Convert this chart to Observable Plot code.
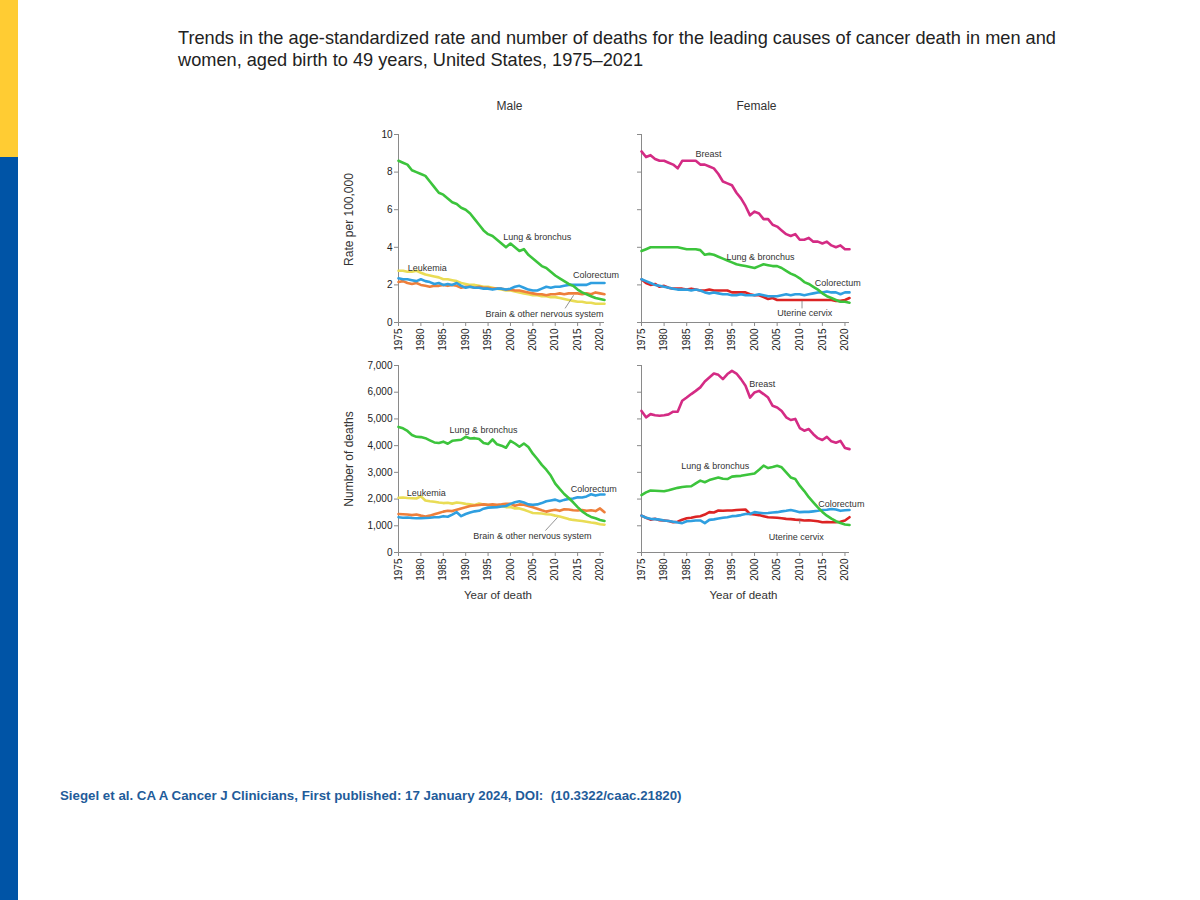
<!DOCTYPE html>
<html>
<head>
<meta charset="utf-8">
<script src="https://cdn.jsdelivr.net/npm/d3@7"></script>
<script src="https://cdn.jsdelivr.net/npm/@observablehq/plot@0.6"></script>
<style>
  html, body { margin: 0; padding: 0; background: #fff; }
  #page { position: relative; width: 1200px; height: 900px; overflow: hidden; font-family: "Liberation Sans", Arial, sans-serif; }
  .bar-y { position: absolute; left: 0; top: 0; width: 18px; height: 157px; background: #ffcc33; }
  .bar-b { position: absolute; left: 0; top: 157px; width: 18px; height: 743px; background: #0054a6; }
  .title { position: absolute; left: 178px; top: 27px; font-size: 18.2px; line-height: 22px; color: #222; width: 960px; white-space: nowrap; }
  .caption { position: absolute; left: 60px; top: 788px; font-size: 13.3px; font-weight: bold; color: #1f5c9a; white-space: nowrap; }
  .panel { position: absolute; }
  .panel svg { overflow: visible; }
</style>
</head>
<body>
<div id="page">
  <div class="bar-y"></div>
  <div class="bar-b"></div>
  <div class="title">Trends in the age-standardized rate and number of deaths for the leading causes of cancer death in men and<br>women, aged birth to 49 years, United States, 1975–2021</div>
  <div id="p1" class="panel"></div>
  <div id="p2" class="panel"></div>
  <div id="p3" class="panel"></div>
  <div id="p4" class="panel"></div>
  <div class="caption">Siegel et al. CA A Cancer J Clinicians, First published: 17 January 2024, DOI:&nbsp; (10.3322/caac.21820)</div>
</div>
<script>
// ---------------- DATA ----------------
const years = d3.range(1975, 2022); // 1975..2021
const xTicks = [1975, 1980, 1985, 1990, 1995, 2000, 2005, 2010, 2015, 2020];
const rateTicks = [0, 2, 4, 6, 8, 10];
const numberTicks = [0, 1000, 2000, 3000, 4000, 5000, 6000, 7000];

const causesMale = ["Leukemia", "Brain & other nervous system", "Colorectum", "Lung & bronchus"];
const causesFemale = ["Uterine cervix", "Colorectum", "Lung & bronchus", "Breast"];
const causeColors = {
  "Lung & bronchus": "#3cc43c",
  "Colorectum": "#2f9fe0",
  "Leukemia": "#e9dc55",
  "Brain & other nervous system": "#ee7f3b",
  "Breast": "#d42b84",
  "Uterine cervix": "#dc2424"
};

// Male, rate per 100,000
const lungMaleRate = [8.6,8.5,8.4,8.1,8.0,7.9,7.8,7.5,7.2,6.9, 6.8,6.6,6.4,6.3,6.1,6.0,5.8,5.5,5.2,4.9, 4.7,4.6,4.4,4.2,4.0,4.2,4.0,3.8,3.9,3.6, 3.4,3.2,3.0,2.9,2.7,2.5,2.35,2.2,2.05,1.95, 1.75,1.6,1.5,1.4,1.3,1.25,1.2];
const leukMaleRate = [2.75,2.75,2.7,2.7,2.75,2.65,2.55,2.5,2.45,2.4, 2.3,2.3,2.25,2.2,2.1,2.05,2.0,2.0,1.95,1.9, 1.9,1.85,1.8,1.75,1.7,1.7,1.65,1.6,1.55,1.5, 1.45,1.45,1.4,1.4,1.35,1.35,1.3,1.25,1.2,1.15, 1.1,1.1,1.05,1.05,1.0,1.0,1.0];
const colMaleRate = [2.35,2.3,2.3,2.25,2.2,2.3,2.2,2.15,2.05,2.1, 2.0,2.05,2.0,2.1,1.95,1.85,1.9,1.85,1.85,1.8, 1.8,1.75,1.8,1.8,1.75,1.8,1.9,1.95,1.85,1.75, 1.7,1.7,1.8,1.9,1.85,1.9,1.9,1.95,2.0,2.0, 2.0,2.0,2.0,2.1,2.1,2.1,2.1];
const brainMaleRate = [2.15,2.2,2.1,2.05,2.1,2.0,1.95,1.9,1.95,1.95, 2.0,1.95,2.0,1.95,1.85,1.9,1.9,1.85,1.9,1.85, 1.85,1.8,1.8,1.8,1.75,1.75,1.7,1.7,1.65,1.6, 1.55,1.5,1.5,1.45,1.5,1.5,1.55,1.5,1.55,1.55, 1.55,1.5,1.55,1.5,1.6,1.55,1.5];

// Female, rate per 100,000
const breastFemaleRate = [9.1,8.8,8.9,8.7,8.6,8.6,8.5,8.4,8.2,8.6, 8.6,8.6,8.6,8.4,8.4,8.3,8.2,7.9,7.5,7.4, 7.3,6.9,6.6,6.2,5.7,5.9,5.8,5.5,5.5,5.2, 5.1,4.9,4.7,4.6,4.7,4.4,4.4,4.5,4.3,4.3, 4.2,4.3,4.1,4.0,4.1,3.9,3.9];
const lungFemaleRate = [3.8,3.9,4.0,4.0,4.0,4.0,4.0,4.0,4.0,3.95, 3.9,3.9,3.9,3.85,3.6,3.65,3.6,3.5,3.4,3.3, 3.2,3.1,3.05,3.0,2.95,2.9,3.0,3.1,3.05,3.0, 3.0,2.9,2.75,2.6,2.5,2.35,2.15,2.05,1.9,1.75, 1.55,1.4,1.3,1.2,1.1,1.1,1.05];
const colFemaleRate = [2.3,2.2,2.1,2.0,1.95,1.9,1.85,1.8,1.75,1.75, 1.75,1.7,1.75,1.7,1.6,1.55,1.6,1.55,1.5,1.5, 1.45,1.45,1.5,1.45,1.45,1.45,1.5,1.45,1.4,1.4, 1.4,1.45,1.5,1.45,1.5,1.5,1.45,1.5,1.55,1.6, 1.6,1.65,1.6,1.6,1.5,1.6,1.6];
const cervFemaleRate = [2.3,2.1,2.0,2.05,1.9,1.95,1.85,1.8,1.8,1.8, 1.75,1.8,1.75,1.7,1.7,1.75,1.7,1.7,1.7,1.7, 1.6,1.6,1.6,1.6,1.5,1.45,1.45,1.35,1.25,1.3, 1.2,1.2,1.2,1.2,1.2,1.2,1.2,1.2,1.2,1.2, 1.2,1.2,1.2,1.15,1.15,1.2,1.3];

// Male, number of deaths
const lungMaleNum = [4700,4650,4550,4400,4330,4320,4280,4200,4120,4100, 4150,4070,4180,4200,4220,4330,4270,4280,4250,4100, 4060,4230,4050,4000,3920,4180,4080,3960,4080,3950, 3700,3500,3280,3100,2880,2580,2380,2190,2040,1880, 1700,1540,1420,1330,1280,1220,1180];
const leukMaleNum = [2050,2060,2040,2030,2020,2100,1950,1920,1900,1870, 1850,1860,1830,1870,1850,1820,1800,1780,1830,1800, 1780,1760,1750,1730,1700,1700,1650,1650,1600,1540, 1480,1470,1460,1430,1420,1380,1350,1300,1250,1220, 1200,1180,1150,1120,1100,1060,1040];
const colMaleNum = [1320,1300,1310,1290,1280,1280,1290,1300,1320,1320, 1360,1340,1420,1510,1360,1440,1500,1540,1560,1640, 1680,1690,1700,1720,1740,1820,1880,1920,1870,1800, 1790,1800,1850,1920,1950,1980,1920,1970,2000,2020, 2070,2060,2100,2180,2130,2170,2170];
const brainMaleNum = [1440,1430,1420,1400,1420,1380,1350,1380,1430,1480, 1530,1560,1550,1600,1650,1690,1740,1760,1780,1800, 1790,1800,1790,1800,1820,1820,1750,1800,1790,1740, 1690,1640,1580,1530,1570,1600,1560,1620,1610,1580, 1570,1590,1560,1580,1550,1650,1510];

// Female, number of deaths
const breastFemaleNum = [5300,5060,5180,5140,5120,5140,5170,5270,5270,5680, 5800,5930,6050,6180,6400,6550,6700,6650,6490,6680, 6800,6700,6490,6240,5800,5990,6050,5930,5800,5490, 5430,5300,5060,4960,5000,4660,4560,4620,4430,4280, 4210,4330,4160,4110,4180,3910,3870];
const lungFemaleNum = [2150,2250,2320,2310,2300,2290,2330,2380,2420,2450, 2470,2480,2590,2690,2630,2710,2760,2810,2760,2750, 2840,2860,2870,2900,2930,2960,3100,3250,3160,3200, 3250,3190,3000,2810,2750,2500,2300,2070,1880,1690, 1520,1380,1270,1170,1100,1050,1030];
const colFemaleNum = [1380,1300,1260,1250,1230,1200,1180,1150,1120,1100, 1170,1180,1200,1200,1100,1220,1240,1270,1300,1320, 1360,1370,1400,1440,1440,1510,1490,1470,1480,1500, 1510,1540,1560,1590,1550,1510,1520,1520,1540,1560, 1590,1600,1630,1610,1560,1580,1590];
const cervFemaleNum = [1380,1300,1230,1260,1210,1200,1180,1130,1150,1230, 1280,1300,1340,1360,1420,1510,1500,1570,1560,1570, 1570,1590,1600,1610,1440,1420,1400,1360,1320,1310, 1300,1280,1260,1250,1230,1220,1200,1210,1190,1170, 1130,1140,1130,1130,1150,1200,1320];

// Annotation labels (data coordinates)
const labelsMaleRate = [
  {text: "Lung & bronchus", year: 2006, value: 4.55},
  {text: "Leukemia", year: 1981.4, value: 2.9},
  {text: "Colorectum", year: 2019.1, value: 2.5},
  {text: "Brain & other nervous system", year: 2007.6, value: 0.45}
];
const leadersMaleRate = [{x1: 2012.2, y1: 0.75, x2: 2014.1, y2: 1.45}];
const labelsFemaleRate = [
  {text: "Breast", year: 1989.8, value: 8.95},
  {text: "Lung & bronchus", year: 2001.3, value: 3.46},
  {text: "Colorectum", year: 2018.4, value: 2.07},
  {text: "Uterine cervix", year: 2011.1, value: 0.48}
];
const leadersFemaleRate = [{x1: 2010.5, y1: 0.75, x2: 2010.5, y2: 1.15}];
const labelsMaleNum = [
  {text: "Lung & bronchus", year: 1994, value: 4600},
  {text: "Leukemia", year: 1981.2, value: 2240},
  {text: "Colorectum", year: 2018.6, value: 2390},
  {text: "Brain & other nervous system", year: 2004.9, value: 600}
];
const leadersMaleNum = [{x1: 2007.8, y1: 820, x2: 2010.5, y2: 1310}];
const labelsFemaleNum = [
  {text: "Breast", year: 2001.7, value: 6315},
  {text: "Lung & bronchus", year: 1991.3, value: 3250},
  {text: "Colorectum", year: 2019.2, value: 1830},
  {text: "Uterine cervix", year: 2009.2, value: 560}
];
const leadersFemaleNum = [{x1: 2010, y1: 1080, x2: 2010, y2: 1230}];

// ---------------- BUILD ----------------
function rows(pairs) {
  return pairs.flatMap(([cause, vals]) => vals.map((v, i) => ({year: years[i], value: v, cause})));
}

const FONT = "'Liberation Sans', Arial, Helvetica, sans-serif";
const AXIS = "#8a8a8a";

function panel(cfg) {
  const {id, left, top, width, height, mt, mb, ml, mr, yDomain, yTicks, yFormat,
         showYLabels, yLabel, yLabelDy, xLabel, xLabelDx, title, titleDx, causes, data, labels, leaders} = cfg;
  const marks = [
    Plot.ruleX([1975], {stroke: AXIS, strokeWidth: 1}),
    Plot.ruleY([yDomain[0]], {stroke: AXIS, strokeWidth: 1}),
    Plot.axisY({ticks: yTicks, tickSize: 4, tickPadding: 2, stroke: AXIS, fill: "#222", fontSize: 10,
                tickFormat: showYLabels ? yFormat : () => "", label: null}),
    Plot.axisX({ticks: xTicks, tickSize: 4, tickPadding: 2, tickRotate: -90, stroke: AXIS, fill: "#222",
                fontSize: 10, tickFormat: d => String(d), label: null}),
    Plot.line(data, {x: "year", y: "value", z: "cause", stroke: "cause", strokeWidth: 2.6,
                     strokeLinejoin: "round", strokeLinecap: "round"}),
    Plot.link(leaders, {x1: "x1", y1: "y1", x2: "x2", y2: "y2", stroke: "#777", strokeWidth: 0.8}),
    Plot.text(labels, {x: "year", y: "value", text: "text", fontSize: 9, fill: "#333"})
  ];
  if (title) marks.push(Plot.text([title], {frameAnchor: "top", dy: -33, dx: titleDx, fontSize: 12, fill: "#333", textAnchor: "middle"}));
  if (yLabel) marks.push(Plot.text([yLabel], {frameAnchor: "left", rotate: -90, dx: -49, dy: yLabelDy, fontSize: 12, fill: "#333", textAnchor: "middle", lineAnchor: "middle"}));
  if (xLabel) marks.push(Plot.text([xLabel], {frameAnchor: "bottom", dy: 46, dx: xLabelDx, fontSize: 11.5, fill: "#333", textAnchor: "middle"}));
  const chart = Plot.plot({
    width, height,
    marginTop: mt, marginBottom: mb, marginLeft: ml, marginRight: mr,
    style: {fontFamily: FONT, background: "transparent", overflow: "visible"},
    x: {domain: [1975, 2021]},
    y: {domain: yDomain},
    color: {domain: causes, range: causes.map(c => causeColors[c])},
    marks
  });
  const el = document.getElementById(id);
  el.style.left = left + "px";
  el.style.top = top + "px";
  el.appendChild(chart);
}

const maleRate = rows([["Leukemia", leukMaleRate], ["Brain & other nervous system", brainMaleRate], ["Colorectum", colMaleRate], ["Lung & bronchus", lungMaleRate]]);
const femaleRate = rows([["Uterine cervix", cervFemaleRate], ["Colorectum", colFemaleRate], ["Lung & bronchus", lungFemaleRate], ["Breast", breastFemaleRate]]);
const maleNum = rows([["Leukemia", leukMaleNum], ["Brain & other nervous system", brainMaleNum], ["Colorectum", colMaleNum], ["Lung & bronchus", lungMaleNum]]);
const femaleNum = rows([["Uterine cervix", cervFemaleNum], ["Colorectum", colFemaleNum], ["Lung & bronchus", lungFemaleNum], ["Breast", breastFemaleNum]]);

const fmtN = d3.format(",");

panel({id: "p1", left: 330, top: 95, width: 290, height: 258, mt: 39, mb: 31, ml: 68, mr: 16,
  yDomain: [0, 10], yTicks: rateTicks, yFormat: d => String(d), showYLabels: true,
  yLabel: "Rate per 100,000", yLabelDy: -9, title: "Male", titleDx: 8,
  causes: causesMale, data: maleRate, labels: labelsMaleRate, leaders: leadersMaleRate});
panel({id: "p2", left: 620, top: 95, width: 250, height: 258, mt: 39, mb: 31, ml: 21, mr: 21,
  yDomain: [0, 10], yTicks: rateTicks, yFormat: d => String(d), showYLabels: false,
  title: "Female", titleDx: 11,
  causes: causesFemale, data: femaleRate, labels: labelsFemaleRate, leaders: leadersFemaleRate});
panel({id: "p3", left: 330, top: 350, width: 290, height: 262, mt: 15, mb: 60, ml: 68, mr: 16,
  yDomain: [0, 7000], yTicks: numberTicks, yFormat: fmtN, showYLabels: true,
  yLabel: "Number of deaths", yLabelDy: 0, xLabel: "Year of death", xLabelDx: -3.5,
  causes: causesMale, data: maleNum, labels: labelsMaleNum, leaders: leadersMaleNum});
panel({id: "p4", left: 620, top: 350, width: 250, height: 262, mt: 15, mb: 60, ml: 21, mr: 21,
  yDomain: [0, 7000], yTicks: numberTicks, yFormat: fmtN, showYLabels: false,
  xLabel: "Year of death", xLabelDx: -2,
  causes: causesFemale, data: femaleNum, labels: labelsFemaleNum, leaders: leadersFemaleNum});
</script>
</body>
</html>
